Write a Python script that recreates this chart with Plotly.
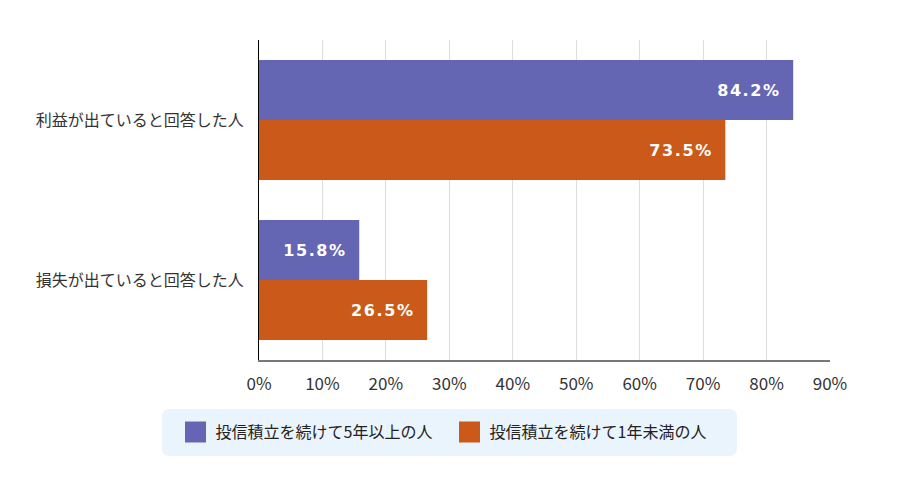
import plotly.graph_objects as go

categories = ["利益が出ていると回答した人", "損失が出ていると回答した人"]
series_names = ["投信積立を続けて5年以上の人", "投信積立を続けて1年未満の人"]
long_term = [84.2, 15.8]
short_term = [73.5, 26.5]
tick_vals = [0, 10, 20, 30, 40, 50, 60, 70, 80, 90]
tick_text = [f"{v}%" for v in tick_vals]

colors = ["#6566B3", "#CB5A1A"]
font_family = "Noto Sans CJK JP, Noto Sans, sans-serif"

# page body has an 8px margin, so the figure is a bit smaller than the window
W, H = 892, 488
L, T, R, B = 251, 32, 70, 136


def spaced(v):
    # loose letter spacing like the original labels
    return "\u200a".join(f"{v:.1f}%") + "\u00a0\u00a0"


fig = go.Figure()
for name, vals, col in zip(series_names, [long_term, short_term], colors):
    fig.add_trace(
        go.Bar(
            y=categories,
            x=vals,
            name=name,
            orientation="h",
            marker=dict(color=col, line=dict(width=0)),
            text=[spaced(v) for v in vals],
            textposition="inside",
            insidetextanchor="end",
            textfont=dict(color="white", size=16, family="DejaVu Sans", weight="bold"),
            showlegend=False,
        )
    )
    # legend entry with a larger square swatch
    fig.add_trace(
        go.Scatter(
            x=[None],
            y=[None],
            mode="markers",
            name=name,
            marker=dict(symbol="square", size=18, color=col, line=dict(width=5, color=col)),
            showlegend=True,
        )
    )

pw, ph = W - L - R, H - T - B


def px(x):
    return (x - 8 - L) / pw


def py(y):
    return 1 - (y - 8 - T) / ph


fig.update_layout(
    width=W,
    height=H,
    margin=dict(l=L, r=R, t=T, b=B),
    barmode="group",
    bargap=0.25,
    bargroupgap=0,
    plot_bgcolor="white",
    paper_bgcolor="white",
    font=dict(family=font_family, color="#333333", size=14),
    legend=dict(
        orientation="h",
        x=px(449.5),
        xanchor="center",
        y=py(432),
        yanchor="middle",
        bgcolor="rgba(0,0,0,0)",
        font=dict(size=16, color="#222222"),
        itemsizing="trace",
        traceorder="normal",
        entrywidth=229,
        entrywidthmode="pixels",
    ),
)

# rounded background panel behind the legend
x0, x1, y0, y1, r = 162, 737, 409, 456, 8
path = (
    f"M {px(x0 + r)} {py(y0)} L {px(x1 - r)} {py(y0)} "
    f"Q {px(x1)} {py(y0)} {px(x1)} {py(y0 + r)} L {px(x1)} {py(y1 - r)} "
    f"Q {px(x1)} {py(y1)} {px(x1 - r)} {py(y1)} L {px(x0 + r)} {py(y1)} "
    f"Q {px(x0)} {py(y1)} {px(x0)} {py(y1 - r)} L {px(x0)} {py(y0 + r)} "
    f"Q {px(x0)} {py(y0)} {px(x0 + r)} {py(y0)} Z"
)
fig.add_shape(
    type="path",
    path=path,
    xref="paper",
    yref="paper",
    fillcolor="#EAF4FC",
    line=dict(width=0),
    layer="below",
)

fig.update_xaxes(
    range=[0, 90],
    tickvals=tick_vals,
    ticktext=tick_text,
    showgrid=True,
    gridcolor="#DDDDDD",
    gridwidth=1,
    showline=True,
    linecolor="#777777",
    linewidth=2,
    zeroline=False,
    ticks="",
    tickfont=dict(size=17, color="#333333"),
    ticklabelstandoff=8,
)
fig.update_yaxes(
    autorange="reversed",
    showline=True,
    linecolor="#000000",
    linewidth=1,
    showgrid=False,
    ticks="",
    tickfont=dict(size=16, color="#333333"),
    ticklabelstandoff=11,
)

fig.write_html("out.html")
